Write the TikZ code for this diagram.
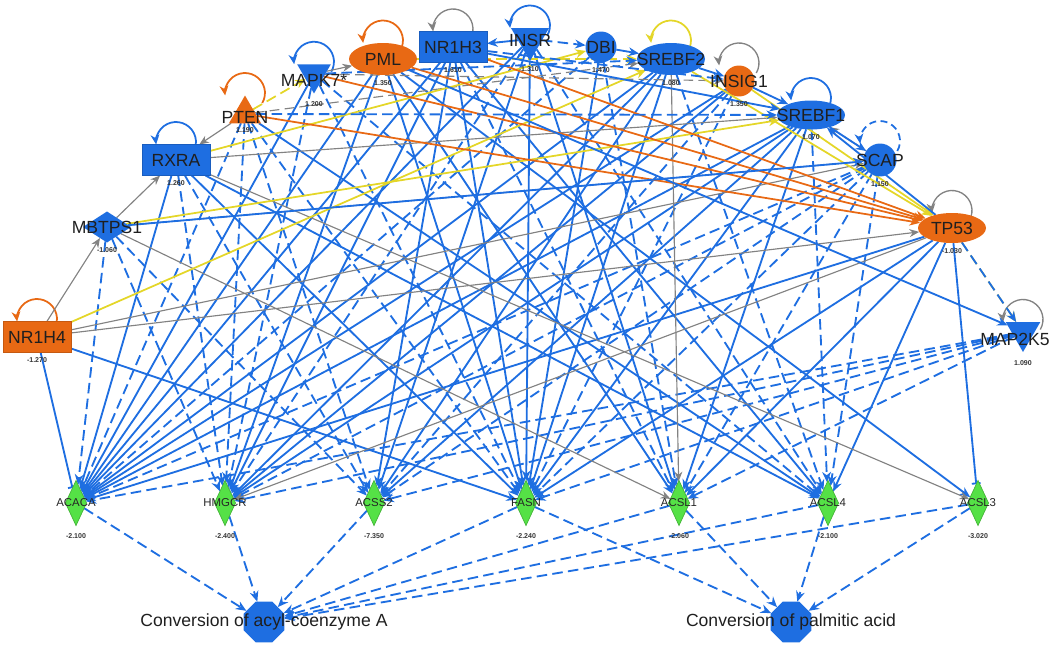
\documentclass[tikz,border=0pt]{standalone}
\usepackage{fontspec}
\setmainfont{Liberation Sans}
\usepackage{tikz}
\usetikzlibrary{shapes.geometric,arrows.meta,positioning}
\pgfdeclarelayer{bg}
\pgfsetlayers{bg,main}

\definecolor{ipablue}{RGB}{30,110,225}
\definecolor{ipaorange}{RGB}{232,105,20}
\definecolor{ipagreen}{RGB}{85,225,70}
\definecolor{ipayellow}{RGB}{228,214,40}
\definecolor{ipagray}{RGB}{130,130,130}

\begin{document}
\begin{tikzpicture}[
				x = 0.02cm, y = -0.02cm,
				every node/.style = {inner sep = 0pt, outer sep = 0pt},
				tx/.style = {font = \fontsize{10}{12}\selectfont, text = black!88},
				tsm/.style = {font = \fontsize{6.5}{7}\selectfont, text = black!85},
				val/.style = {font = \fontsize{4}{5}\selectfont\bfseries, text = black!80, yshift = -1.1mm},
				rectO/.style = {rectangle, fill = ipaorange, draw = ipaorange!85!black, minimum width = 1.36cm, minimum height = 0.62cm},
				rectB/.style = {rectO, fill = ipablue, draw = ipablue!85!black},
				ellO/.style = {ellipse, fill = ipaorange, minimum width = 1.36cm, minimum height = 0.64cm},
				ellB/.style = {ellO, fill = ipablue},
				circB/.style = {circle, fill = ipablue, minimum size = 0.62cm},
				circO/.style = {circB, fill = ipaorange},
				triUp/.style = {regular polygon, regular polygon sides = 3, fill = ipaorange, minimum size = 0.74cm},
				triDn/.style = {regular polygon, regular polygon sides = 3, shape border rotate = 180, fill = ipablue, minimum size = 0.78cm},
				diaB/.style = {diamond, fill = ipablue, minimum width = 0.96cm, minimum height = 0.62cm},
				target/.style = {diamond, fill = ipagreen, draw = ipagreen!80!black, minimum width = 0.42cm, minimum height = 0.9cm},
				func/.style = {regular polygon, regular polygon sides = 8, fill = ipablue, minimum size = 0.88cm},
				bs/.style = {draw = ipablue, line width = 1.05pt, -{Stealth[length = 6pt, width = 5pt]}},
				bd/.style = {bs, dash pattern = on 6pt off 3pt},
				bt/.style = {draw = ipablue, line width = 1.05pt, -{Bar[width = 5pt]}},
				gs/.style = {draw = ipagray, line width = 0.65pt, -{Stealth[length = 5.5pt, width = 4.5pt]}},
				gd/.style = {gs, dash pattern = on 5.5pt off 3pt},
				ys/.style = {draw = ipayellow, line width = 1pt, -{Stealth[length = 6pt, width = 5pt]}},
				yd/.style = {ys, dash pattern = on 6pt off 3pt},
				os/.style = {draw = ipaorange, line width = 1pt, -{Stealth[length = 6pt, width = 5pt]}},
				loopB/.style = {draw = ipablue, line width = 1pt, -{Stealth[length = 5.5pt, width = 5pt]}},
				loopBd/.style = {loopB, dash pattern = on 4pt off 2.5pt},
				loopO/.style = {loopB, draw = ipaorange},
				loopG/.style = {loopB, draw = ipagray, line width = 0.75pt},
				loopY/.style = {loopB, draw = ipayellow}
			]

			\useasboundingbox (0,0) rectangle (1059,646);

			% upstream regulators, round the arc
			\node[rectO, label = {[tx]center:NR1H4}, label = {[val]below:-1.270}] (nrh4) at (37,337) {};
			\node[diaB, label = {[tx]center:MBTPS1}, label = {[val]below:-1.060}] (mbtps1) at (107,227) {};
			\node[rectB, label = {[tx]center:RXRA}, label = {[val]below:1.260}] (rxra) at (176,160) {};
			\node[triUp, label = {[tx, yshift = -0.6mm]center:PTEN}, label = {[val, yshift = 0.2mm]below:1.190}] (pten) at (245,114) {};
			\node[triDn, label = {[tx, yshift = -1.2mm]center:MAPK7*}, label = {[val, yshift = -0.6mm]below:1.200}] (mapk7) at (314,74) {};
			\node[ellO, label = {[tx]center:PML}, label = {[val]below:1.350}] (pml) at (383,59) {};
			\node[rectB, label = {[tx]center:NR1H3}, label = {[val]below:1.610}] (nr1h3) at (453,47) {};
			\node[triDn, minimum size = 0.88cm, label = {[tx, yshift = -0.3mm]center:INSR}, label = {[val]below:1.310}] (insr) at (530,39) {};
			\node[circB, label = {[tx]center:DBI}, label = {[val]below:1.470}] (dbi) at (601,47) {};
			\node[ellB, label = {[tx]center:SREBF2}, label = {[val]below:1.080}] (srebf2) at (671,59) {};
			\node[circO, label = {[tx]center:INSIG1}, label = {[val]below:1.350}] (insig1) at (739,81) {};
			\node[ellB, minimum height = 0.58cm, label = {[tx]center:SREBF1}, label = {[val]below:1.070}] (srebf1) at (811,115) {};
			\node[circB, minimum size = 0.66cm, label = {[tx]center:SCAP}, label = {[val]below:1.150}] (scap) at (880,160) {};
			\node[ellO, minimum height = 0.6cm, label = {[tx]center:TP53}, label = {[val]below:-1.030}] (tp53) at (952,228) {};
			\node[triDn, minimum size = 0.8cm, label = {[tx, xshift = -1.6mm, yshift = -1.4mm]center:MAP2K5}, label = {[val, yshift = -0.6mm]below:1.090}] (map2k5) at (1023,332) {};

			% targets
			\node[target, label = {[tsm]center:ACACA}, label = {[val, yshift = -0.6mm]below:-2.100}] (acaca) at (76,503) {};
			\node[target, label = {[tsm]center:HMGCR}, label = {[val, yshift = -0.6mm]below:-2.400}] (hmgcr) at (225,503) {};
			\node[target, label = {[tsm]center:ACSS2}, label = {[val, yshift = -0.6mm]below:-7.350}] (acss2) at (374,503) {};
			\node[target, label = {[tsm]center:FASN}, label = {[val, yshift = -0.6mm]below:-2.240}] (fasn) at (526,503) {};
			\node[target, label = {[tsm]center:ACSL1}, label = {[val, yshift = -0.6mm]below:-2.060}] (acsl1) at (679,503) {};
			\node[target, label = {[tsm]center:ACSL4}, label = {[val, yshift = -0.6mm]below:-2.100}] (acsl4) at (828,503) {};
			\node[target, label = {[tsm]center:ACSL3}, label = {[val, yshift = -0.6mm]below:-3.020}] (acsl3) at (978,503) {};

			% functions
			\node[func, label = {[tx]center:Conversion of acyl-coenzyme A}] (acylcoa) at (264,622) {};
			\node[func, label = {[tx]center:Conversion of palmitic acid}] (palmitic) at (791,622) {};

			\begin{pgfonlayer}{bg}
			% self loops
			\foreach \n/\s in {nrh4/loopO, rxra/loopB, pten/loopO, mapk7/loopB, pml/loopO, nr1h3/loopG, insr/loopB,
					srebf2/loopY, insig1/loopG, srebf1/loopB, scap/loopBd, tp53/loopG, map2k5/loopG}
				\draw[\s] ([xshift = 3.46mm, yshift = -1.5mm]\n.north) arc[start angle = -30, end angle = 187, radius = 4mm];

			% regulators to targets
			\foreach \a/\b in {mapk7/acaca, pml/acaca, nr1h3/acaca, insr/acaca, srebf2/acaca, insig1/acaca, srebf1/acaca, tp53/acaca, rxra/acaca,
					pml/hmgcr, nr1h3/hmgcr, srebf2/hmgcr, insig1/hmgcr, srebf1/hmgcr,
					nr1h3/acss2, insr/acss2, srebf2/acss2, srebf1/acss2,
					nrh4/fasn, rxra/fasn, pml/fasn, nr1h3/fasn, insr/fasn, dbi/fasn, srebf2/fasn, srebf1/fasn, tp53/fasn,
					pml/acsl1, insr/acsl1, srebf1/acsl1, tp53/acsl1,
					pten/acsl4, nr1h3/acsl4, tp53/acsl4, rxra/acsl4,
					pml/acsl3}
				\draw[bs] (\a) -- (\b);
			\foreach \a/\b in {mbtps1/acaca, pten/acaca, dbi/acaca, scap/acaca, map2k5/acaca,
					mbtps1/hmgcr, rxra/hmgcr, pten/hmgcr, mapk7/hmgcr, insr/hmgcr, scap/hmgcr, map2k5/hmgcr,
					mbtps1/acss2, rxra/acss2, pten/acss2, insig1/acss2, scap/acss2, map2k5/acss2,
					pten/fasn, mapk7/fasn, insig1/fasn, scap/fasn, map2k5/fasn,
					nr1h3/acsl1, dbi/acsl1, scap/acsl1, map2k5/acsl1,
					mapk7/acsl4, insr/acsl4, srebf2/acsl4, srebf1/acsl4, scap/acsl4}
				\draw[bd] (\a) -- (\b);
			\draw[bt] (nrh4) -- (acaca);
			\draw[bt] (tp53) -- (acsl3);
			\foreach \a/\b in {tp53/hmgcr, mbtps1/acsl1, srebf2/acsl1, rxra/acsl3}
				\draw[gs] (\a) -- (\b);

			% targets to functions
			\foreach \a in {acaca, hmgcr, acss2, fasn, acsl1, acsl4, acsl3}
				\draw[bd] (\a) -- (acylcoa);
			\foreach \a in {fasn, acsl1, acsl4, acsl3}
				\draw[bd] (\a) -- (palmitic);

			% among the regulators
			\foreach \a/\b in {nrh4/mbtps1, mbtps1/rxra, pten/rxra, mapk7/pml, nrh4/scap, nrh4/tp53, rxra/srebf1, scap/srebf1}
				\draw[gs] (\a) -- (\b);
			\foreach \a/\b in {mbtps1/scap, pten/srebf2, mapk7/insig1}
				\draw[gd] (\a) -- (\b);
			\foreach \a/\b in {nrh4/srebf2, mbtps1/srebf1, rxra/dbi, srebf2/tp53, insig1/tp53}
				\draw[ys] (\a) -- (\b);
			\foreach \a/\b in {pten/mapk7, tp53/map2k5, pml/srebf2}
				\draw[yd] (\a) -- (\b);
			\foreach \a/\b in {pten/tp53, mapk7/tp53, pml/tp53, nr1h3/tp53}
				\draw[os] (\a) -- (\b);
			\foreach \a/\b in {insr/nr1h3, dbi/srebf2, srebf2/insig1, insig1/srebf1, srebf1/scap, tp53/srebf1, mbtps1/scap, nr1h3/srebf1, pml/map2k5}
				\draw[bs] (\a) -- (\b);
			\foreach \a/\b in {insr/dbi, pten/srebf1, mapk7/srebf2, tp53/map2k5, nr1h3/insig1}
				\draw[bd] (\a) -- (\b);
			\end{pgfonlayer}

			\end{tikzpicture}
\end{document}
